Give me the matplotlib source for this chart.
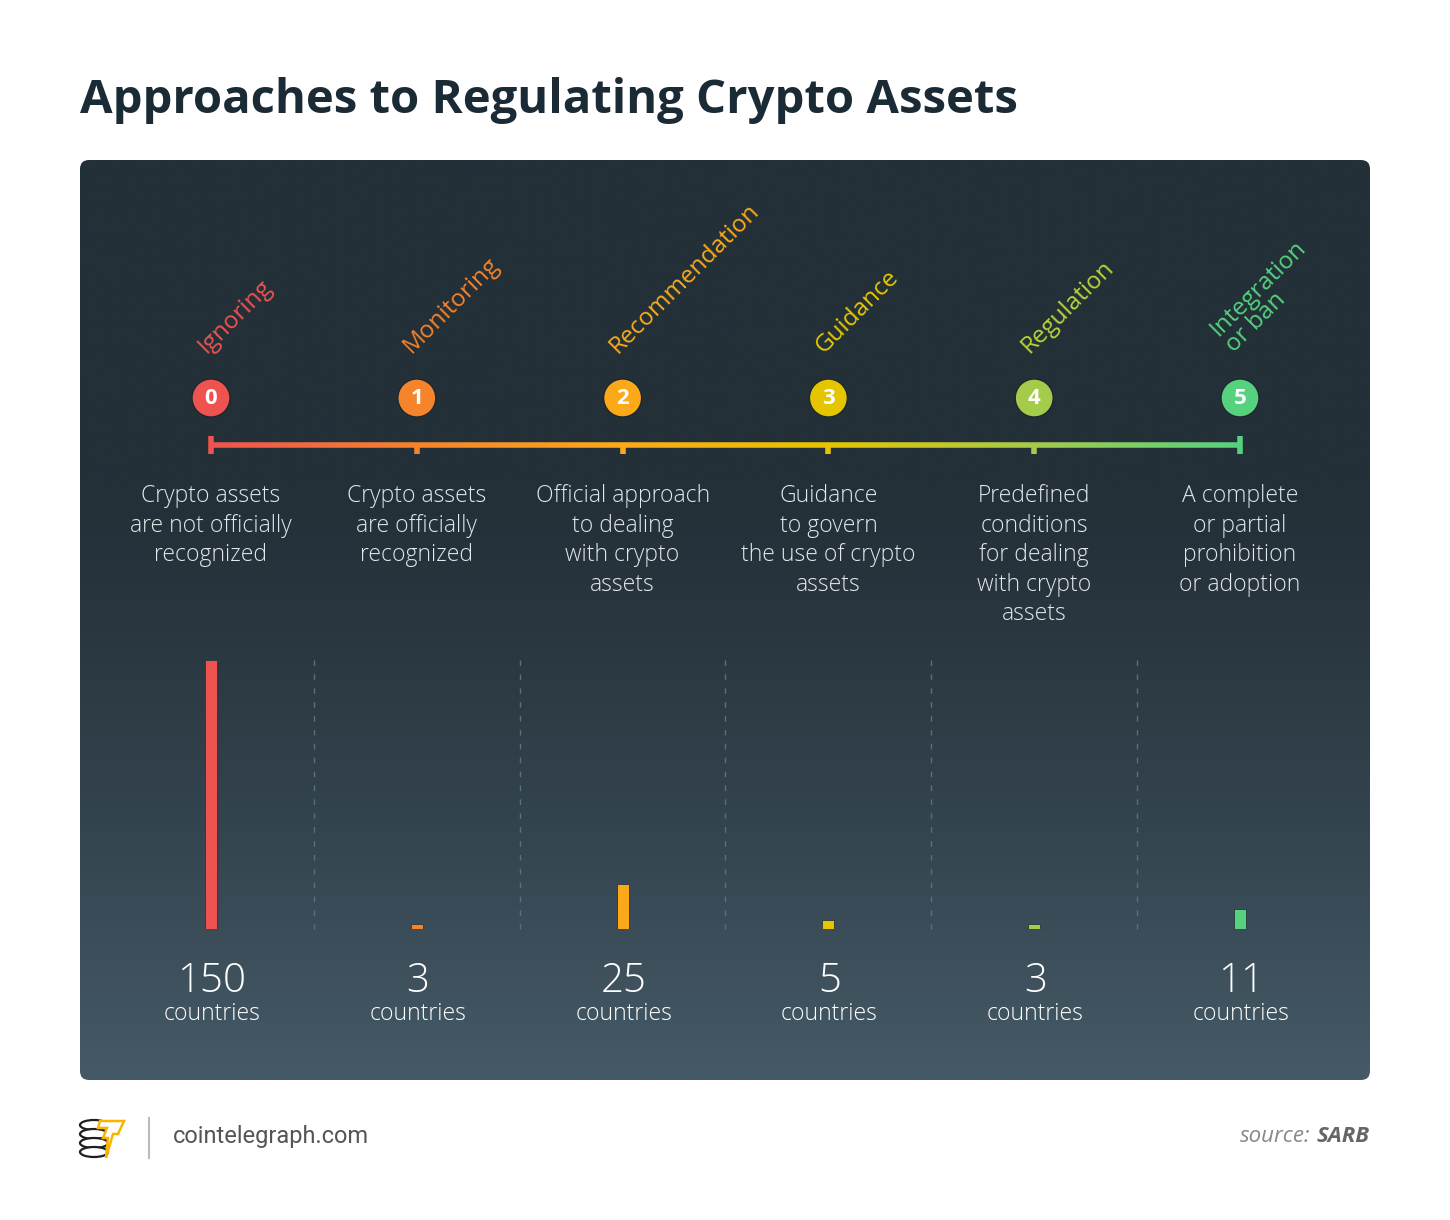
import numpy as np
import matplotlib; matplotlib.use("Agg")
import matplotlib.pyplot as plt
from matplotlib.patches import FancyBboxPatch, Circle, Ellipse, Polygon
from matplotlib.collections import LineCollection
from matplotlib.colors import LinearSegmentedColormap, to_rgb

plt.rcParams["font.family"] = ["Open Sans", "DejaVu Sans"]

# data
stages = ["Ignoring", "Monitoring", "Recommendation", "Guidance", "Regulation",
          "Integration\nor ban"]
descriptions = [
    "Crypto assets\nare not officially\nrecognized",
    "Crypto assets\nare officially\nrecognized",
    "Official approach\nto dealing\nwith crypto\nassets",
    "Guidance\nto govern\nthe use of crypto\nassets",
    "Predefined\nconditions\nfor dealing\nwith crypto\nassets",
    "A complete\nor partial\nprohibition\nor adoption",
]
countries = [150, 3, 25, 5, 3, 11]
levels = [0, 1, 2, 3, 4, 5]
colors = ["#ef5350", "#f5842b", "#fba919", "#e5c400", "#a5cb4a", "#56d17e"]
label_colors = ["#ef5350", "#f5842b", "#fbab18", "#e6c800", "#b8d63a", "#56d17e"]

W, H = 1450, 1220
fig = plt.figure(figsize=(W / 100, H / 100), dpi=100)
fig.patch.set_facecolor("white")
ax = fig.add_axes([0, 0, 1, 1])
ax.set_xlim(0, W); ax.set_ylim(H, 0); ax.axis("off")

# panel with vertical gradient
px0, px1, py0, py1 = 80, 1370, 160, 1080
panel = FancyBboxPatch((px0, py0), px1 - px0, py1 - py0,
                       boxstyle="round,pad=0,rounding_size=9",
                       facecolor="none", edgecolor="none")
ax.add_patch(panel)
t = np.linspace(0, 1, 256)
top, bot = np.array(to_rgb("#243038")), np.array(to_rgb("#455a67"))
w = np.clip((t - 0.35) / 0.65, 0, 1) ** 1.3
grad = top[None, :] * (1 - w[:, None]) + bot[None, :] * w[:, None]
img = ax.imshow(grad[:, None, :], extent=(px0, px1, py1, py0), aspect="auto",
                interpolation="bilinear", zorder=0)
img.set_clip_path(panel)

# title
ax.text(80, 101, "Approaches to Regulating Crypto Assets", fontsize=34,
        fontweight="bold", color="#1b2b36", ha="left", va="center")

xs = [211 + i * 205.8 for i in range(6)]

# timeline gradient line
cmap = LinearSegmentedColormap.from_list("tl", colors)
xx = np.linspace(xs[0], xs[-1], 400)
segs = [[(xx[i], 445), (xx[i + 1], 445)] for i in range(len(xx) - 1)]
lc = LineCollection(segs, colors=cmap(np.linspace(0, 1, len(segs))),
                    linewidths=4, capstyle="butt", zorder=3)
ax.add_collection(lc)
for i, x in enumerate(xs):
    c = colors[i]
    if i in (0, 5):
        ax.plot([x, x], [436, 454], color=c, lw=4, solid_capstyle="butt", zorder=3)
    else:
        ax.plot([x, x], [445, 454], color=c, lw=4, solid_capstyle="butt", zorder=3)
    # number circle
    ax.add_patch(Circle((x, 398), 19, facecolor=c, edgecolor="#1d272e", lw=1, zorder=4))
    ax.text(x, 399, str(levels[i]), color="white", fontsize=16, fontweight="bold",
            ha="center", va="center", zorder=5)
    # rotated stage label
    ax.text(x - 5, 354, stages[i], color=label_colors[i], fontsize=17.5, rotation=45,
            rotation_mode="anchor", ha="left", va="baseline",
            linespacing=0.92, zorder=5)
    # description
    ax.text(x, 484, descriptions[i], color="#e3e8eb", fontsize=16.5, ha="center",
            va="top", linespacing=1.31, fontweight="light", zorder=5)
    # counts
    ax.text(x + 1, 982, str(countries[i]), color="white", fontsize=29,
            fontweight="light", ha="center", va="center", zorder=5)
    ax.text(x + 1, 1014, "countries", color="white", fontsize=16.5,
            fontweight="light", ha="center", va="center", zorder=5)

# dashed separators
for i in range(5):
    xm = (xs[i] + xs[i + 1]) / 2
    ax.plot([xm, xm], [660, 929], color="#5b6f7d", lw=1, ls=(0, (4, 6)), zorder=2)

# bars on their own axes: x 0..5 -> xs, y 0..150 -> 929..660
bx0 = (xs[0] - 102.9) / W
bw = 6 * 205.8 / W
by0 = (H - 929) / H
bh = (929 - 660) / H
bax = fig.add_axes([bx0, by0, bw, bh])
bax.set_xlim(-0.5, 5.5); bax.set_ylim(0, 150)
bax.axis("off"); bax.patch.set_alpha(0)
bar_w = 12 / 205.8
bax.bar(levels, countries, width=bar_w, color=colors, edgecolor="#2a353d",
        linewidth=0.6, zorder=3)

# footer
ax.plot([149, 149], [1118, 1158], color="#bbbbbb", lw=1.5)
ax.text(173, 1137, "cointelegraph.com", color="#555555", fontsize=17,
        family=["Roboto", "DejaVu Sans"], ha="left", va="center")
ax.text(1370, 1137, "SARB", color="#666666", fontsize=16, fontweight="bold",
        style="italic", ha="right", va="center")
ax.text(1311, 1137, "source:", color="#888888", fontsize=16,
        style="italic", ha="right", va="center")

# logo: stacked coins + lightning T
for k in range(4):
    ax.add_patch(Ellipse((94, 1125 + k * 9), 28, 10, facecolor="white",
                         edgecolor="#1e1e1e", lw=1.6, zorder=6 + k))
bolt = [(100, 1121), (124, 1121), (118, 1134), (113, 1134), (106, 1158),
        (108, 1138), (103, 1138), (107, 1128), (98, 1128)]
ax.add_patch(Polygon(bolt, closed=True, facecolor="white", edgecolor="#f7b500",
                     lw=1.8, zorder=12))

fig.savefig("out.png", dpi=100, facecolor="white")
